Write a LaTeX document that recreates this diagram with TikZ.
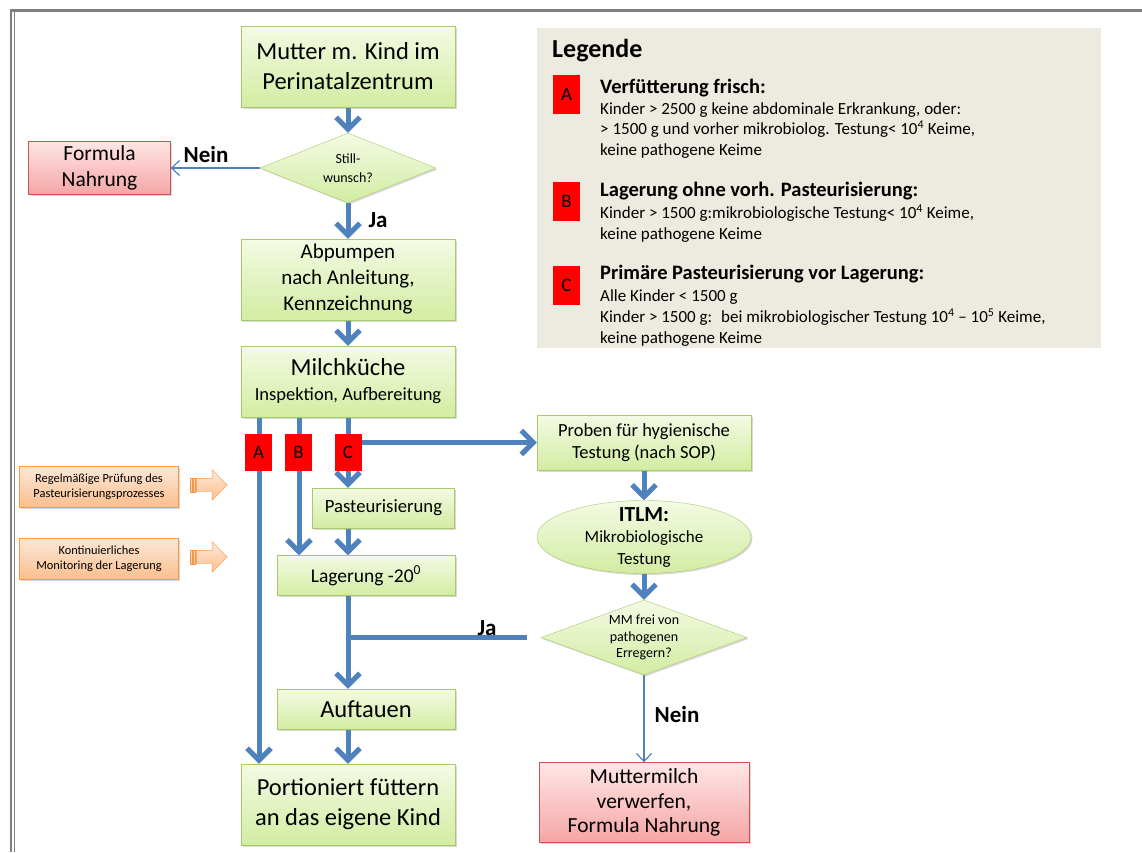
\documentclass[tikz,border=0pt]{standalone}
\usepackage{fontspec}
\setmainfont{Carlito}
\usepackage{xcolor}
\usepackage{tikz}
\usetikzlibrary{arrows.meta, positioning, shapes.geometric, shapes.arrows, shadows, backgrounds}
\definecolor{flowblue}{HTML}{4F81BD}
\definecolor{grtop}{HTML}{F4FAE4}
\definecolor{grbot}{HTML}{D3ECA2}
\definecolor{grline}{HTML}{A8CA6C}
\definecolor{rdtop}{HTML}{FFE6E6}
\definecolor{rdbot}{HTML}{F5A5A5}
\definecolor{rdline}{HTML}{CC5250}
\definecolor{ortop}{HTML}{FDE8D8}
\definecolor{orbot}{HTML}{FBBF8E}
\definecolor{orline}{HTML}{F79646}
\definecolor{legbg}{HTML}{EDEADF}
\definecolor{tagred}{HTML}{FF0000}
\definecolor{framegrey}{HTML}{7F7F7F}

\begin{document}
\begin{tikzpicture}[
      x=1pt, y=-1pt,
      every node/.style={align=center, inner sep=0pt, text=black},
      shade/.style={drop shadow={shadow xshift=1.5pt, shadow yshift=-1.5pt, opacity=0.3}},
      gbox/.style={rectangle, draw=grline, top color=grtop, bottom color=grbot, shade},
      rbox/.style={rectangle, draw=rdline, top color=rdtop, bottom color=rdbot, shade},
      obox/.style={rectangle, draw=orline, top color=ortop, bottom color=orbot, shade,
        minimum width=159pt, font=\fontsize{12.4}{14.7}\selectfont},
      gdia/.style={diamond, draw=grline, top color=grtop, bottom color=grbot, shade},
      tag/.style={rectangle, fill=tagred, minimum width=27pt, minimum height=37pt,
        font=\fontsize{19}{20}\selectfont},
      blockarr/.style={single arrow, draw=orline, top color=ortop, bottom color=orbot,
        inner xsep=0pt, inner ysep=6.5pt, single arrow head extend=8.5pt, minimum height=31pt},
      stripe/.style={draw=orline, top color=ortop, bottom color=orbot, line width=0.6pt},
      fat/.style={draw=flowblue, line width=5pt, -{Straight Barb[length=12pt, width=24pt]}},
      fatline/.style={draw=flowblue, line width=5pt},
      thin/.style={draw=flowblue, line width=1.2pt, -{Straight Barb[length=8pt, width=15pt]}},
      yesno/.style={font=\bfseries\fontsize{23}{26}\selectfont},
      leghead/.style={anchor=base west, font=\bfseries\fontsize{20.5}{24}\selectfont},
      legtext/.style={anchor=base west, align=left, font=\fontsize{17}{20.6}\selectfont}
    ]
    \useasboundingbox (0,0) rectangle (1142,852);
    % frame
    \draw[framegrey, line width=3pt] (10,10.5) -- (1142,10.5);
    \draw[framegrey, line width=2pt] (11,9) -- (11,852);
    \draw[framegrey, line width=1.5pt] (14.3,12) -- (14.3,852);

    % main column
    \node[gbox, minimum width=214pt, minimum height=81pt, font=\fontsize{24.5}{30}\selectfont]
      (mutter) at (348,66.5) {Mutter m. Kind im\\Perinatalzentrum};
    \node[gdia, minimum width=176pt, minimum height=70pt, aspect=2.5,
      font=\fontsize{14}{18.5}\selectfont] (still) at (348,168) {Still-\\wunsch?};
    \node[rbox, minimum width=142pt, minimum height=53pt, font=\fontsize{21.5}{26}\selectfont]
      (formula) at (99.5,168) {Formula\\Nahrung};
    \node[gbox, minimum width=214pt, minimum height=81pt, font=\fontsize{21}{26}\selectfont]
      (abpumpen) at (348,279.5) {Abpumpen\\nach Anleitung,\\Kennzeichnung};
    \node[gbox, minimum width=214pt, minimum height=71pt, font=\fontsize{18.5}{25}\selectfont]
      (milch) at (348,381.5)
      {{\fontsize{24.5}{30}\selectfont Milchküche}\\Inspektion, Aufbereitung};
    \node[gbox, minimum width=142pt, minimum height=40pt, font=\fontsize{18.7}{22}\selectfont]
      (pasteur) at (383.5,508) {Pasteurisierung};
    \node[gbox, minimum width=178pt, minimum height=40pt, font=\fontsize{19.5}{22}\selectfont]
      (lager) at (366,575.5) {Lagerung -20\textsuperscript{0}};
    \node[gbox, minimum width=178pt, minimum height=40pt, font=\fontsize{24.5}{28}\selectfont]
      (auftauen) at (366,709) {Auftauen};
    \node[gbox, minimum width=214pt, minimum height=81pt, font=\fontsize{24.5}{30}\selectfont]
      (portion) at (348,804.5) {Portioniert füttern\\an das eigene Kind};

    % right column
    \node[gbox, minimum width=214pt, minimum height=55pt, font=\fontsize{18.5}{22.5}\selectfont]
      (proben) at (644,442.5) {Proben für hygienische\\Testung (nach SOP)};
    \node[ellipse, draw=grline, top color=grtop, bottom color=grbot, shade,
      minimum width=214pt, minimum height=73pt, inner xsep=12pt, inner ysep=-9pt,
      font=\fontsize{17}{21.5}\selectfont] (itlm) at (644,537)
      {{\bfseries\fontsize{21.5}{24}\selectfont ITLM:}\\Mikrobiologische\\Testung};
    \node[gdia, minimum width=206pt, minimum height=75pt, aspect=2.7,
      font=\fontsize{14}{16.5}\selectfont] (mm) at (644,637.5) {MM frei von\\pathogenen\\Erregern?};
    \node[rbox, minimum width=210pt, minimum height=80pt, font=\fontsize{21.5}{24.5}\selectfont]
      (verwerfen) at (644,802.5) {Muttermilch\\verwerfen,\\Formula Nahrung};

    % control notes
    \node[obox, minimum height=41pt] (pruefung) at (99,486.5)
      {Regelmäßige Prüfung des\\Pasteurisierungsprozesses};
    \node[obox, minimum height=41pt] (monitor) at (99,558.5)
      {Kontinuierliches\\Monitoring der Lagerung};
    \node[blockarr] (parr) at (208.5,485) {};
    \node[blockarr] (marr) at (208.5,557) {};
    \foreach \a in {parr, marr} {
      \path[stripe] ([xshift=-5.5pt]\a.before tail) rectangle ([xshift=-3.5pt]\a.after tail);
      \path[stripe] ([xshift=-2.5pt]\a.before tail) rectangle ([xshift=-0.8pt]\a.after tail);
    }

    % connectors
    \begin{pgfonlayer}{background}
      \draw[fat] (mutter) -- (still);
      \draw[thin] (still) -- (formula);
      \draw[fat] (still) -- (abpumpen);
      \draw[fat] (abpumpen) -- (milch);
      \draw[fat] (milch.south -| 259,0) -- (portion.north -| 259,0);
      \draw[fat] (milch.south -| 299,0) -- (lager.north -| 299,0);
      \draw[fat] (milch.south) -- (milch.south |- pasteur.north);
      \draw[fat] (milch.south |- proben.west) -- (proben.west);
      \draw[fat] (milch.south |- pasteur.south) -- (milch.south |- lager.north);
      \draw[fat] (milch.south |- lager.south) -- (milch.south |- auftauen.north);
      \draw[fatline, shorten <=14pt] (mm.west) -- (milch.south |- mm.west);
      \draw[fat] (milch.south |- auftauen.south) -- (portion.north);
      \draw[fat] (proben) -- (itlm);
      \draw[fat] (itlm) -- (mm);
      \draw[thin] (mm) -- (verwerfen);
    \end{pgfonlayer}

    % route tags
    \node[tag] (tagA) at (258.5,452) {A};
    \node[tag] (tagB) at (298.5,452) {B};
    \node[tag] (tagC) at (348,452) {C};

    \node[yesno] (nein1) at (206,155) {Nein};
    \node[yesno] (ja1) at (378,220) {Ja};
    \node[yesno] (ja2) at (487,628) {Ja};
    \node[yesno] (nein2) at (677,715) {Nein};

    % legend
    \node[fill=legbg, minimum width=564pt, minimum height=320pt, anchor=north west]
      (legend) at (537,28) {};
    \node[anchor=base west, font=\bfseries\fontsize{26}{30}\selectfont] (legtitle) at (552,57) {Legende};
    \node[tag, minimum width=27pt, minimum height=39pt] (legA) at (566.5,94.5) {A};
    \node[tag, minimum width=27pt, minimum height=39pt] (legB) at (566.5,201) {B};
    \node[tag, minimum width=27pt, minimum height=39pt] (legC) at (566.5,285) {C};
    \node[leghead] (headA) at (600,93) {Verfütterung frisch:};
    \node[legtext] (textA) at (600,155.5)
      {Kinder > 2500 g keine abdominale Erkrankung, oder:\\
       > 1500 g und vorher mikrobiolog. Testung< 10\textsuperscript{4} Keime,\\
       keine pathogene Keime};
    \node[leghead] (headB) at (600,196) {Lagerung ohne vorh. Pasteurisierung:};
    \node[legtext] (textB) at (600,239)
      {Kinder > 1500 g:mikrobiologische Testung< 10\textsuperscript{4} Keime,\\
       keine pathogene Keime};
    \node[leghead] (headC) at (600,279) {Primäre Pasteurisierung vor Lagerung:};
    \node[legtext] (textC) at (600,343)
      {Alle Kinder < 1500 g\\
       Kinder > 1500 g:~ bei mikrobiologischer Testung 10\textsuperscript{4} – 10\textsuperscript{5} Keime,\\
       keine pathogene Keime};
  \end{tikzpicture}
\end{document}
